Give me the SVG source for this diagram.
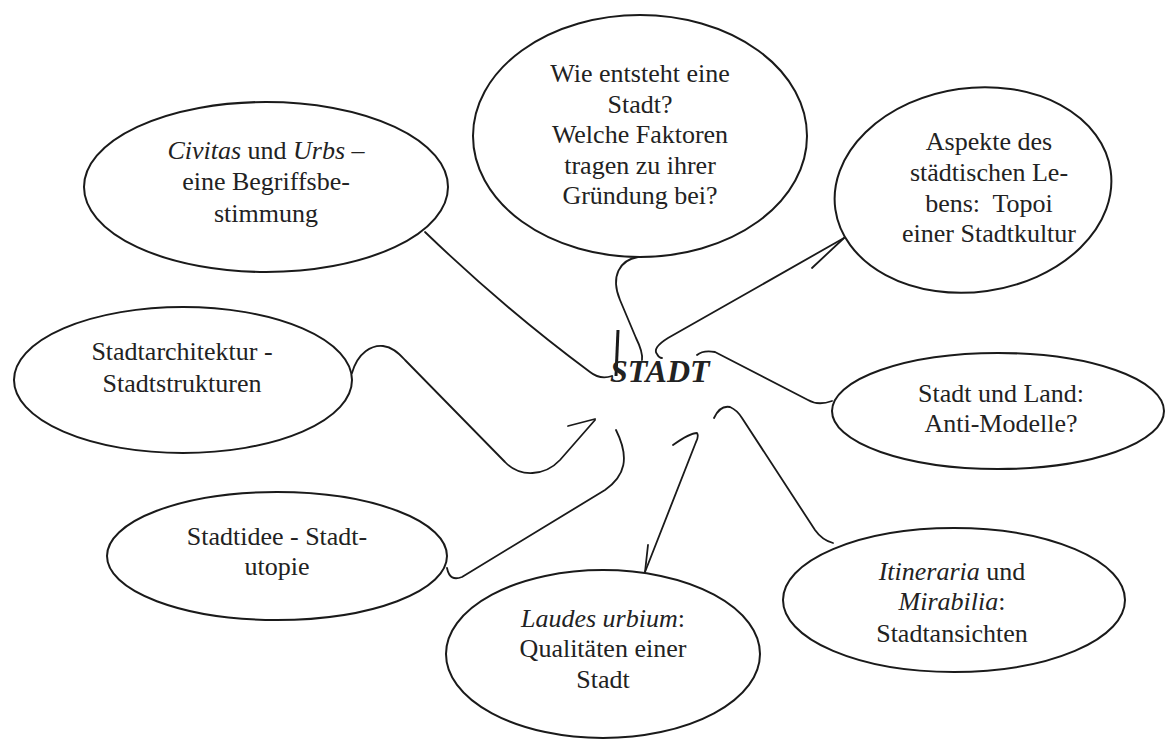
<svg xmlns="http://www.w3.org/2000/svg" width="1166" height="742" viewBox="0 0 1166 742">
<style>
.node ellipse{fill:#fff;stroke:#1a1a1a;stroke-width:2}
.t{font-size:26px;fill:#222;text-anchor:middle}
.i{font-style:italic}
#connectors path{fill:none;stroke:#1a1a1a;stroke-width:1.8;stroke-linecap:round;stroke-linejoin:round}
</style>
<rect width="1166" height="742" fill="#fff"/>
<g id="connectors">
<path d="M 425 232 C 480 285 540 335 590 372 Q 600 380 612 376"/>
<path d="M 638 257 C 620 260 610 276 620 300 L 636 338 Q 643 352 642 360"/>
<path d="M 844 238 L 668 338 Q 652 348 657 354 Q 659 358 662 358"/>
<path d="M 844 238 L 812 268"/>
<path d="M 697 355 Q 703 350 715 352 L 808 400 Q 818 406 832 401"/>
<path d="M 714 418 Q 720 405 730 407 Q 737 410 742 418 L 815 530 Q 822 540 833 543"/>
<path d="M 673 445 Q 690 433 697 433 Q 699 436 696 442 L 645 572"/>
<path d="M 648 545 L 645 572"/>
<path d="M 447 568 C 449 578 454 580 462 577 L 605 490 C 625 476 630 458 616 430"/>
<path d="M 352 373 C 358 352 372 345 383 346 C 392 347 398 352 405 360 L 505 462 C 520 478 545 476 560 460 L 595 420"/>
<path d="M 568 426 L 595 419"/>
</g>
<g font-family="'Liberation Serif', 'Times New Roman', serif">
<g id="center">
<path d="M 618 330 L 616 376" stroke="#1a1a1a" stroke-width="3" fill="none"/>
<text x="610" y="382" font-size="32" font-weight="bold" font-style="italic" fill="#222">STADT</text>
</g>
<g id="civitas" class="node">
<ellipse cx="266" cy="187" rx="182" ry="85"/>
<text class="t" x="266" y="159"><tspan class="i">Civitas</tspan> und <tspan class="i">Urbs</tspan> –</text>
<text class="t" x="266" y="190">eine Begriffsbe-</text>
<text class="t" x="266" y="222">stimmung</text>
</g>
<g id="entstehung" class="node">
<ellipse cx="640" cy="136" rx="167" ry="121"/>
<text class="t" x="640" y="82">Wie entsteht eine</text>
<text class="t" x="640" y="113">Stadt?</text>
<text class="t" x="640" y="143">Welche Faktoren</text>
<text class="t" x="640" y="174">tragen zu ihrer</text>
<text class="t" x="640" y="204">Gründung bei?</text>
</g>
<g id="aspekte" class="node">
<ellipse cx="973" cy="190" rx="139" ry="102" transform="rotate(-8 973 190)"/>
<text class="t" x="989" y="150">Aspekte des</text>
<text class="t" x="989" y="181">städtischen Le-</text>
<text class="t" x="989" y="212">bens:&#160; Topoi</text>
<text class="t" x="989" y="242">einer Stadtkultur</text>
</g>
<g id="architektur" class="node">
<ellipse cx="183" cy="380" rx="169" ry="73"/>
<text class="t" x="182" y="360">Stadtarchitektur -</text>
<text class="t" x="182" y="392">Stadtstrukturen</text>
</g>
<g id="stadtidee" class="node">
<ellipse cx="277" cy="556" rx="170" ry="64"/>
<text class="t" x="277" y="545">Stadtidee - Stadt-</text>
<text class="t" x="277" y="575">utopie</text>
</g>
<g id="laudes" class="node">
<ellipse cx="603" cy="654" rx="157" ry="84"/>
<text class="t" x="603" y="627"><tspan class="i">Laudes urbium</tspan>:</text>
<text class="t" x="603" y="657">Qualitäten einer</text>
<text class="t" x="603" y="688">Stadt</text>
</g>
<g id="stadtland" class="node">
<ellipse cx="998" cy="411" rx="166" ry="58"/>
<text class="t" x="1001" y="402">Stadt und Land:</text>
<text class="t" x="1001" y="432">Anti-Modelle?</text>
</g>
<g id="itineraria" class="node">
<ellipse cx="954" cy="600" rx="171" ry="72"/>
<text class="t" x="952" y="580"><tspan class="i">Itineraria</tspan> und</text>
<text class="t" x="952" y="610"><tspan class="i">Mirabilia</tspan>:</text>
<text class="t" x="952" y="642">Stadtansichten</text>
</g>
</g>
</svg>
